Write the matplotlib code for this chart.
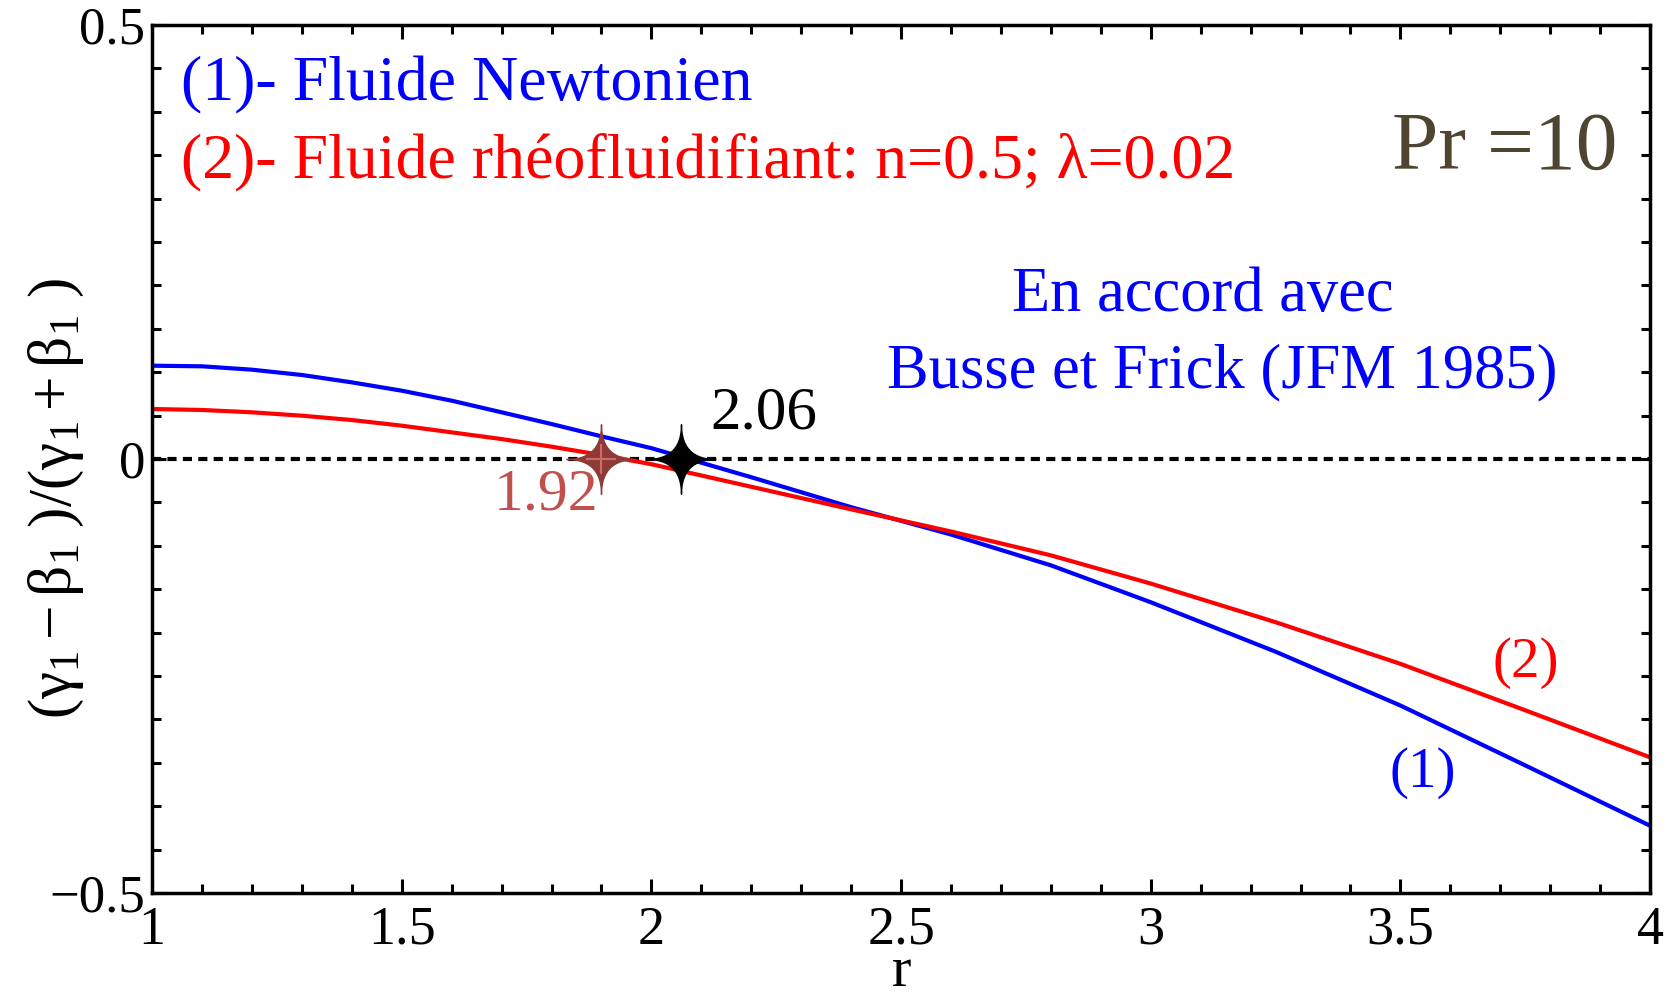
import numpy as np
import matplotlib
matplotlib.use("Agg")
import matplotlib.pyplot as plt
from matplotlib.path import Path
from matplotlib.ticker import MultipleLocator

plt.rcParams['font.family'] = ['Liberation Serif', 'DejaVu Serif']
plt.rcParams['mathtext.fontset'] = 'custom'
plt.rcParams['mathtext.rm'] = 'Liberation Serif'
plt.rcParams['mathtext.it'] = 'Liberation Serif:italic'

# values
r = [1.0, 1.1, 1.2, 1.3, 1.4, 1.5, 1.6, 1.7, 1.8, 1.9, 2.0,
     2.2, 2.4, 2.6, 2.8, 3.0, 3.25, 3.5, 3.75, 4.0]
newtonian = [0.1075, 0.1068, 0.1029, 0.0968, 0.0883, 0.0787, 0.0672, 0.0538, 0.0403, 0.0261, 0.0125,
             -0.021, -0.0555, -0.087, -0.1225, -0.165, -0.222, -0.284, -0.353, -0.4225]
shear_thinning = [0.0576, 0.0565, 0.0538, 0.0499, 0.0449, 0.0384, 0.0307, 0.0230, 0.0142, 0.0046, -0.006,
                  -0.032, -0.058, -0.0835, -0.111, -0.1435, -0.188, -0.236, -0.2895, -0.3437]

star_r = [1.90, 2.06]
star_labels = ["1.92", "2.06"]

xticks = [1, 1.5, 2, 2.5, 3, 3.5, 4]
xtick_labels = ["1", "1.5", "2", "2.5", "3", "3.5", "4"]
yticks = [-0.5, 0, 0.5]
ytick_labels = ["\u22120.5", "0", "0.5"]

# 4-point star marker (concave sides)
t = np.linspace(0, 2 * np.pi, 200)
p = 4
sx = np.sign(np.cos(t)) * np.abs(np.cos(t)) ** p
sy = np.sign(np.sin(t)) * np.abs(np.sin(t)) ** p
star = Path(np.column_stack([sx, sy]))

fig = plt.figure(figsize=(16.73, 10.01), dpi=100)
ax = fig.add_axes([0.0909, 0.1079, 0.8954, 0.8671])

ax.axhline(0, color='black', lw=3, linestyle=(0, (2.2, 1.5)), zorder=1)
ax.plot(r, newtonian, color='#0000ff', lw=3, zorder=2)
ax.plot(r, shear_thinning, color='#ff0000', lw=3, zorder=2)

# roots
ax.plot(star_r[0], 0, marker=star, markersize=50, color='#8e3a36', zorder=4)
ax.plot(star_r[0], 0, marker='+', markersize=22, mew=1.5, color='#cf6a66', zorder=5)
ax.plot(star_r[1], 0, marker=star, markersize=50, color='black', zorder=4)

ax.annotate(star_labels[0], (star_r[0], 0), xytext=(-2, -36), textcoords='offset points',
            ha='right', va='baseline', fontsize=43, color='#c0504d', zorder=6)
ax.annotate(star_labels[1], (star_r[1], 0), xytext=(21, 22), textcoords='offset points',
            ha='left', va='baseline', fontsize=44, color='black', zorder=6)

ax.set_xlim(1, 4)
ax.set_ylim(-0.5, 0.5)
ax.set_xticks(xticks)
ax.set_xticklabels(xtick_labels)
ax.set_yticks(yticks)
ax.set_yticklabels(ytick_labels)
ax.xaxis.set_minor_locator(MultipleLocator(0.1))
ax.yaxis.set_minor_locator(MultipleLocator(0.05))
ax.tick_params(which='both', direction='in', top=True, right=True, width=2.2,
               labelsize=38, pad=5)
ax.tick_params(axis='x', which='both', labelsize=39, pad=9)
ax.tick_params(which='major', length=10)
ax.tick_params(which='minor', length=6.5)
for s in ax.spines.values():
    s.set_linewidth(2.5)

# axis titles
fig.text(0.5386, 0.003, 'r', ha='center', va='bottom', fontsize=42)
fig.text(0.034, 0.5015, r'$(\mathrm{\gamma}_1 - \mathrm{\beta}_1\ )/(\mathrm{\gamma}_1 + \mathrm{\beta}_1\ )$',
         rotation=90, ha='center', va='center', fontsize=44)

# annotations
ax.text(0.0194, 0.9136, '(1)- Fluide Newtonien', transform=ax.transAxes,
        fontsize=46, color='#0000ff', va='baseline', ha='left')
ax.text(0.0194, 0.8249, '(2)- Fluide rhéofluidifiant: n=0.5; λ=0.02', transform=ax.transAxes,
        fontsize=46, color='#ff0000', va='baseline', ha='left')
ax.text(0.978, 0.834, 'Pr =10', transform=ax.transAxes,
        fontsize=60, color='#4d4530', va='baseline', ha='right')
ax.text(0.7016, 0.6705, 'En accord avec', transform=ax.transAxes,
        fontsize=45, color='#0000ff', va='baseline', ha='center')
ax.text(0.7143, 0.5829, 'Busse et Frick (JFM 1985)', transform=ax.transAxes,
        fontsize=45, color='#0000ff', va='baseline', ha='center')
ax.text(0.8485, 0.1221, '(1)', transform=ax.transAxes,
        fontsize=41, color='#0000ff', va='baseline', ha='center')
ax.text(0.9172, 0.2488, '(2)', transform=ax.transAxes,
        fontsize=41, color='#ff0000', va='baseline', ha='center')

fig.savefig('out.png', dpi=100)
